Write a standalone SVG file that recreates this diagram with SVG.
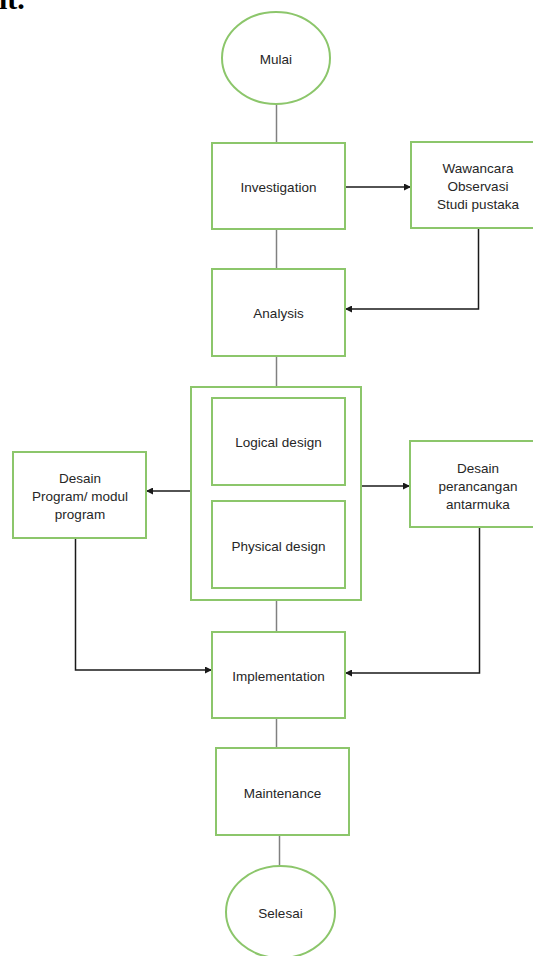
<svg xmlns="http://www.w3.org/2000/svg" width="533" height="956" viewBox="0 0 533 956">
<defs>
<style>
.n{fill:#fff;stroke:#8cc66b;stroke-width:2}
.t{font-family:"Liberation Sans",Arial,sans-serif;font-size:13.5px;fill:#262626;text-anchor:middle;dominant-baseline:central}
.g{stroke:#808080;stroke-width:1.5;fill:none}
.a{stroke:#1a1a1a;stroke-width:1.5;fill:none;marker-end:url(#ah)}
</style>
<marker id="ah" viewBox="0 0 10 10" refX="10" refY="5" markerWidth="7" markerHeight="7" markerUnits="userSpaceOnUse" orient="auto">
<path d="M0,0 L10,5 L0,10 z" fill="#1a1a1a"/>
</marker>
</defs>
<rect width="533" height="956" fill="#fff"/>
<text x="-1" y="9" font-family="Liberation Serif,serif" font-weight="bold" font-size="30" fill="#000">it.</text>
<g id="connectors">
<line class="g" x1="276.5" y1="104" x2="276.5" y2="143"/>
<line class="g" x1="276.5" y1="229" x2="276.5" y2="269"/>
<line class="g" x1="276.5" y1="356" x2="276.5" y2="387"/>
<line class="g" x1="276.5" y1="600" x2="276.5" y2="632"/>
<line class="g" x1="276.5" y1="718" x2="276.5" y2="748"/>
<line class="g" x1="279.5" y1="835" x2="279.5" y2="866"/>
<path class="a" d="M345,187 H411"/>
<path class="a" d="M478.5,228 V309 H345"/>
<path class="a" d="M191,491 H146"/>
<path class="a" d="M361,486 H410"/>
<path class="a" d="M75.5,538 V670 H212"/>
<path class="a" d="M479.5,527 V673 H345"/>
</g>
<g id="mulai"><ellipse class="n" cx="276" cy="58" rx="54" ry="46"/><text class="t" x="276" y="59">Mulai</text></g>
<g id="investigation"><rect class="n" x="212" y="143" width="133" height="86"/><text class="t" x="278.5" y="187">Investigation</text></g>
<g id="wawancara"><rect class="n" x="411" y="142" width="130" height="86"/><text class="t" x="478" y="168">Wawancara</text><text class="t" x="478" y="186">Observasi</text><text class="t" x="478" y="204">Studi pustaka</text></g>
<g id="analysis"><rect class="n" x="212" y="269" width="133" height="87"/><text class="t" x="278.5" y="313">Analysis</text></g>
<g id="design"><rect class="n" x="191" y="387" width="170" height="213"/></g>
<g id="logical"><rect class="n" x="212" y="398" width="133" height="87"/><text class="t" x="278.5" y="442">Logical design</text></g>
<g id="physical"><rect class="n" x="212" y="501" width="133" height="87"/><text class="t" x="278.5" y="546">Physical design</text></g>
<g id="desain-program"><rect class="n" x="13" y="452" width="133" height="86"/><text class="t" x="80" y="478">Desain</text><text class="t" x="80" y="496">Program/ modul</text><text class="t" x="80" y="514">program</text></g>
<g id="desain-antarmuka"><rect class="n" x="410" y="441" width="131" height="86"/><text class="t" x="478" y="468">Desain</text><text class="t" x="478" y="486">perancangan</text><text class="t" x="478" y="504">antarmuka</text></g>
<g id="implementation"><rect class="n" x="212" y="632" width="133" height="86"/><text class="t" x="278.5" y="676">Implementation</text></g>
<g id="maintenance"><rect class="n" x="216" y="748" width="133" height="87"/><text class="t" x="282.5" y="793">Maintenance</text></g>
<g id="selesai"><ellipse class="n" cx="280.5" cy="912" rx="54.5" ry="46"/><text class="t" x="280.5" y="913">Selesai</text></g>
</svg>
